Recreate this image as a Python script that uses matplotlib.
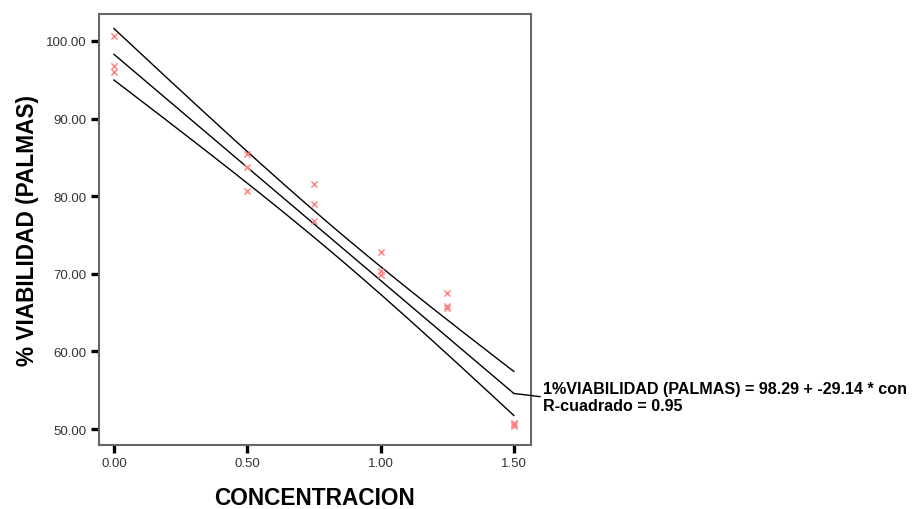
import numpy as np
from matplotlib import pyplot as plt

plt.rcParams['font.family'] = ['Liberation Sans', 'DejaVu Sans']

# data
CONC = [0.0, 0.0, 0.0, 0.5, 0.5, 0.5, 0.75, 0.75, 0.75,
        1.0, 1.0, 1.0, 1.25, 1.25, 1.25, 1.5, 1.5, 1.5]
VIAB = [100.7, 96.8, 96.0, 85.4, 83.8, 80.7, 81.6, 79.0, 76.8,
        72.8, 70.4, 69.8, 67.5, 65.8, 65.6, 50.8, 50.6, 50.4]
INTERCEPT = 98.29
SLOPE = -29.14
R2 = 0.95
T_CRIT = 2.12  # t(0.975, df=16)

x = np.array(CONC)
y = np.array(VIAB)

# fitted line and 95% confidence band for the mean
xs = np.linspace(0.0, 1.5, 200)
fit = INTERCEPT + SLOPE * xs
resid = y - (INTERCEPT + SLOPE * x)
n = len(x)
s = np.sqrt(np.sum(resid ** 2) / (n - 2))
sxx = np.sum((x - x.mean()) ** 2)
half = T_CRIT * s * np.sqrt(1.0 / n + (xs - x.mean()) ** 2 / sxx)

fig = plt.figure(figsize=(9.2, 5.1), dpi=100)
ax = fig.add_axes([0.1076, 0.1261, 0.4692, 0.8439])

ax.plot(xs, fit + half, color='black', lw=1)
ax.plot(xs, fit, color='black', lw=1)
ax.plot(xs, fit - half, color='black', lw=1)
ax.scatter(x, y, marker='x', s=20, color='#ff8080', linewidths=1, zorder=3)

ax.set_xlim(-0.056, 1.563)
ax.set_ylim(47.98, 103.44)
ax.set_xticks([0.0, 0.5, 1.0, 1.5])
ax.set_yticks([50, 60, 70, 80, 90, 100])
ax.set_xticklabels(['%.2f' % v for v in [0.0, 0.5, 1.0, 1.5]])
ax.set_yticklabels(['%.2f' % v for v in [50, 60, 70, 80, 90, 100]])
ax.tick_params(direction='out', length=6, width=2.4, color='black',
               labelsize=9.5, labelcolor='#333333', pad=3)
for sp in ax.spines.values():
    sp.set_color('#666666')
    sp.set_linewidth(1.5)

ax.set_xlabel('CONCENTRACION', fontsize=16.3, fontweight='bold', labelpad=12)
ax.set_ylabel('% VIABILIDAD (PALMAS)', fontsize=16.3, fontweight='bold', labelpad=5)

# leader line from the end of the fit to the equation
x_end = 1.5
y_end = INTERCEPT + SLOPE * x_end
ax.annotate('1%%VIABILIDAD (PALMAS) = %.2f + %.2f * con\nR-cuadrado = %.2f'
            % (INTERCEPT, SLOPE, R2),
            xy=(x_end, y_end), xycoords='data',
            xytext=(543, 510 - 398), textcoords='figure pixels',
            fontsize=11.6, fontweight='bold', va='center', ha='left',
            linespacing=1.15,
            arrowprops=dict(arrowstyle='-', color='black', lw=1,
                            shrinkA=0, shrinkB=0, relpos=(0, 0.5)),
            annotation_clip=False)

fig.savefig('out.png', dpi=100)
